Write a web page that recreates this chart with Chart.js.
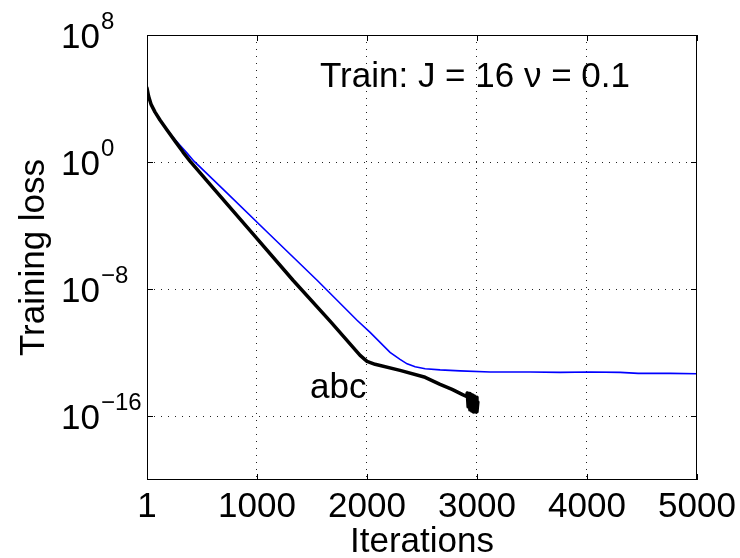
<!DOCTYPE html>
<html>
<head>
<meta charset="utf-8">
<script src="https://cdn.jsdelivr.net/npm/chart.js@4"></script>
<style>
  html, body { margin: 0; padding: 0; background: #fff; }
  #wrap { width: 740px; height: 558px; }
</style>
</head>
<body>
<div id="wrap"><canvas id="myChart" width="740" height="558"></canvas></div>
<script>
// Datos
const blackIter = [1, 15, 37, 74, 119, 183, 256, 328, 392, 619, 956, 1328, 1665, 1938, 2001, 2074, 2301, 2529, 2665, 2774, 2865, 2905,
                   2912, 2920, 2928, 2936, 2944, 2952, 2960, 2968, 2976, 2984, 2992, 3000, 3008];
const blackLoss = [4.6e4, 1.45e4, 4.5e3, 1.41e3, 447, 105, 21, 4.3, 1.15, 1.74e-2, 3.5e-5, 3.7e-8, 1e-10, 6.9e-13, 2.9e-13, 1.9e-13, 7.9e-14, 2.9e-14, 1.05e-14, 5e-15, 2.45e-15, 1.8e-15,
                   3e-15, 4e-16, 2.8e-15, 2.6e-16, 2.5e-15, 2.2e-16, 2.2e-15, 1.9e-16, 1.9e-15, 1.9e-16, 1.6e-15, 2e-16, 8e-16];

const blueIter = [1, 15, 37, 74, 119, 174, 237, 301, 365, 428, 701, 1100, 1547, 1910, 2029, 2210, 2301, 2365, 2438, 2529, 2665, 2847,
                  3120, 3483, 3756, 4029, 4302, 4465, 4756, 5000];
const blueLoss = [4.6e4, 1.45e4, 4.5e3, 1.41e3, 4.8e2, 1.38e2, 37, 11.7, 3.7, 1.15, 1.74e-2, 3.6e-5, 3.7e-8, 1.12e-10, 1.95e-11, 1.07e-12, 3.9e-13, 2.04e-13, 1.32e-13, 1e-13, 8.5e-14, 7.4e-14,
                  6.3e-14, 6.3e-14, 5.9e-14, 6.3e-14, 5.9e-14, 5.1e-14, 5.1e-14, 4.8e-14];

const xTicks = [1, 1000, 2000, 3000, 4000, 5000];
const yTicks = [1e-16, 1e-8, 1, 1e8];
const yTickExp = ['\u221216', '\u22128', '0', '8'];

const xTitle = 'Iterations';
const yTitle = 'Training loss';
const note = 'Train: J = 16 \u03bd = 0.1';
const curveLabel = 'abc';

const FONT = '"Liberation Sans", Arial, sans-serif';

// Dibuja caja, marcas, etiquetas y textos al estilo MATLAB
const matlabAxes = {
    id: 'matlabAxes',
    afterDraw(chart) {
        const ctx = chart.ctx;
        const a = chart.chartArea;
        const sx = chart.scales.x, sy = chart.scales.y;
        ctx.save();
        ctx.strokeStyle = '#000';
        ctx.lineWidth = 1;
        ctx.strokeRect(a.left + 0.5, a.top + 0.5, a.right - a.left - 1, a.bottom - a.top - 1);

        const tl = 6;
        ctx.beginPath();
        xTicks.forEach(v => {
            const px = Math.round(sx.getPixelForValue(v)) + 0.5;
            ctx.moveTo(px, a.bottom); ctx.lineTo(px, a.bottom - tl);
            ctx.moveTo(px, a.top); ctx.lineTo(px, a.top + tl);
        });
        yTicks.forEach(v => {
            const py = Math.round(sy.getPixelForValue(v)) + 0.5;
            ctx.moveTo(a.left, py); ctx.lineTo(a.left + tl, py);
            ctx.moveTo(a.right, py); ctx.lineTo(a.right - tl, py);
        });
        ctx.stroke();

        ctx.fillStyle = '#000';
        ctx.font = '35px ' + FONT;
        ctx.textAlign = 'center';
        ctx.textBaseline = 'alphabetic';
        xTicks.forEach(v => {
            ctx.fillText(String(v), sx.getPixelForValue(v), 517);
        });

        yTicks.forEach((v, i) => {
            const py = sy.getPixelForValue(v);
            ctx.font = '35px ' + FONT;
            ctx.textAlign = 'right';
            ctx.fillText('10', 100, py + 13);
            ctx.font = '24px ' + FONT;
            ctx.textAlign = 'left';
            ctx.fillText(yTickExp[i], 101, py - 6);
        });

        ctx.font = '35px ' + FONT;
        ctx.textAlign = 'center';
        ctx.fillText(xTitle, (a.left + a.right) / 2, 552);

        ctx.save();
        ctx.translate(44, (a.top + a.bottom) / 2);
        ctx.rotate(-Math.PI / 2);
        ctx.fillText(yTitle, 0, 0);
        ctx.restore();

        ctx.textAlign = 'left';
        ctx.fillText(note, 320, 87);
        ctx.fillText(curveLabel, 310, 398);
        ctx.restore();
    }
};

const ctx = document.getElementById('myChart').getContext('2d');
const chart = new Chart(ctx, {
    type: 'line',
    data: {
        datasets: [{
            label: 'blue',
            data: blueIter.map((x, i) => ({ x: x, y: blueLoss[i] })),
            borderColor: '#0000ff',
            borderWidth: 1.6,
            pointRadius: 0,
            fill: false,
            tension: 0,
            order: 2
        }, {
            label: 'black',
            data: blackIter.map((x, i) => ({ x: x, y: blackLoss[i] })),
            borderColor: '#000000',
            borderWidth: 3.5,
            borderJoinStyle: 'round',
            borderCapStyle: 'round',
            pointRadius: 0,
            fill: false,
            tension: 0,
            order: 1
        }]
    },
    options: {
        responsive: false,
        animation: false,
        devicePixelRatio: 1,
        layout: { padding: { left: 147, top: 35, right: 43, bottom: 78 } },
        plugins: { legend: { display: false }, tooltip: { enabled: false } },
        scales: {
            x: {
                type: 'linear',
                min: 1, max: 5000,
                afterBuildTicks: s => { s.ticks = xTicks.map(v => ({ value: v })); },
                afterFit: s => { s.height = 0; },
                ticks: { display: false },
                grid: {
                    drawTicks: false,
                    color: c => (c.tick && (c.tick.value === 1 || c.tick.value === 5000)) ? 'rgba(0,0,0,0)' : '#222',
                    lineWidth: 1
                },
                border: { display: false, dash: [1, 6] }
            },
            y: {
                type: 'logarithmic',
                min: 1e-20, max: 1e8,
                afterBuildTicks: s => { s.ticks = yTicks.map(v => ({ value: v })); },
                afterFit: s => { s.width = 0; },
                ticks: { display: false },
                grid: {
                    drawTicks: false,
                    color: c => (c.tick && c.tick.value === 1e8) ? 'rgba(0,0,0,0)' : '#222',
                    lineWidth: 1
                },
                border: { display: false, dash: [1, 6] }
            }
        }
    },
    plugins: [matlabAxes]
});
</script>
</body>
</html>
